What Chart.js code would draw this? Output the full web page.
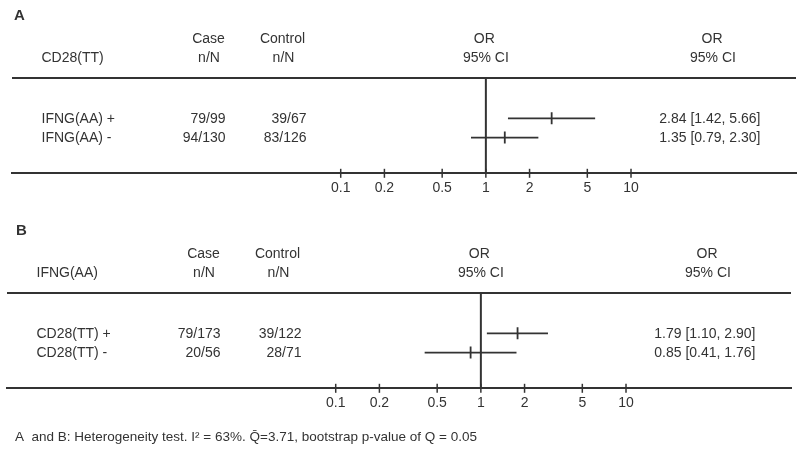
<!DOCTYPE html>
<html>
<head>
<meta charset="utf-8">
<script src="https://cdn.jsdelivr.net/npm/chart.js@4"></script>
<style>
  body { margin: 0; background: #fff; width: 800px; height: 459px; overflow: hidden; position: relative; }
  .panel { position: absolute; width: 800px; }
  #panelA { left: 0; top: 0; height: 215px; }
  #panelB { left: -5px; top: 215px; height: 244px; }
</style>
</head>
<body>
<div class="panel" id="panelA"><canvas id="chartA" width="800" height="215"></canvas></div>
<div class="panel" id="panelB"><canvas id="chartB" width="800" height="244"></canvas></div>
<script>
const tickValues = [0.1, 0.2, 0.5, 1, 2, 5, 10];

const groupA = "CD28(TT)";
const rowsA = ["IFNG(AA) +", "IFNG(AA) -"];
const caseA = ["79/99", "94/130"];
const controlA = ["39/67", "83/126"];
const orA = [2.84, 1.35];
const lowerA = [1.42, 0.79];
const upperA = [5.66, 2.30];

const groupB = "IFNG(AA)";
const rowsB = ["CD28(TT) +", "CD28(TT) -"];
const caseB = ["79/173", "20/56"];
const controlB = ["39/122", "28/71"];
const orB = [1.79, 0.85];
const lowerB = [1.10, 0.41];
const upperB = [2.90, 1.76];

const caption = "A  and B: Heterogeneity test. I\u00B2 = 63%. Q\u0304=3.71, bootstrap p-value of Q = 0.05";

const ink = "#333";
const font = '"Liberation Sans", Arial, sans-serif';
const fmt = (v) => v.toFixed(2);
const AXIS_H = 30;

function makePanel(canvasId, letter, letterX, group, rows, cases, controls, ors, lows, highs, footer) {
  const ctx = document.getElementById(canvasId).getContext("2d");
  const h = ctx.canvas.height;

  const ciSets = rows.map((r, i) => ({
    type: "scatter",
    showLine: true,
    data: [{ x: lows[i], y: i }, { x: highs[i], y: i }],
    borderColor: ink,
    borderWidth: 1.8,
    pointRadius: 0,
  }));

  const tablePlugin = {
    id: "table",
    beforeDatasetsDraw(chart) {
      const c = chart.ctx;
      const area = chart.chartArea;
      const xs = chart.scales.x;
      const ys = chart.scales.y;
      c.save();
      c.strokeStyle = ink;
      c.lineWidth = 2;
      // top rule
      c.beginPath();
      c.moveTo(area.left, area.top);
      c.lineTo(area.right, area.top);
      c.stroke();
      // line of no effect
      const x1 = xs.getPixelForValue(1);
      c.beginPath();
      c.moveTo(x1, area.top);
      c.lineTo(x1, area.bottom);
      c.stroke();
      // tick marks crossing the axis
      c.lineWidth = 1.5;
      tickValues.forEach((v) => {
        const x = xs.getPixelForValue(v);
        c.beginPath();
        c.moveTo(x, area.bottom - 4.5);
        c.lineTo(x, area.bottom + 4.5);
        c.stroke();
      });

      c.fillStyle = ink;
      c.textBaseline = "middle";
      c.font = "bold 15px " + font;
      c.textAlign = "left";
      c.fillText(letter, letterX, 15.5);

      c.font = "14px " + font;
      c.fillText(group, 41.5, 58.5);
      c.textAlign = "center";
      c.fillText("Case", 208.5, 39.5);
      c.fillText("n/N", 209, 58.5);
      c.fillText("Control", 282.5, 39.5);
      c.fillText("n/N", 283.5, 58.5);
      c.fillText("OR", x1 - 1.5, 39.5);
      c.fillText("95% CI", x1, 58.5);
      c.fillText("OR", 712, 39.5);
      c.fillText("95% CI", 713, 58.5);

      rows.forEach((r, i) => {
        const y = ys.getPixelForValue(i) + 1;
        c.textAlign = "left";
        c.fillText(r, 41.5, y);
        c.textAlign = "right";
        c.fillText(cases[i], 225.5, y);
        c.fillText(controls[i], 306.5, y);
        c.fillText(`${fmt(ors[i])} [${fmt(lows[i])}, ${fmt(highs[i])}]`, 760.5, y);
      });

      if (footer) {
        c.textAlign = "left";
        c.font = "13.5px " + font;
        c.fillText(footer, 20, 222.5, 462);
      }
      c.restore();
    },
  };

  return new Chart(ctx, {
    type: "scatter",
    data: {
      datasets: [
        ...ciSets,
        {
          type: "scatter",
          data: ors.map((v, i) => ({ x: v, y: i })),
          pointStyle: "line",
          rotation: 90,
          pointRadius: 6,
          borderColor: ink,
          backgroundColor: ink,
          borderWidth: 1.8,
        },
      ],
    },
    options: {
      responsive: false,
      animation: false,
      devicePixelRatio: 1,
      layout: { autoPadding: false, padding: { left: 12, right: 4, top: 78, bottom: h - 173.3 - AXIS_H } },
      scales: {
        x: {
          type: "logarithmic",
          min: 5.436e-4,
          max: 137,
          afterBuildTicks: (scale) => {
            scale.ticks = tickValues.map((v) => ({ value: v }));
          },
          afterFit: (scale) => {
            scale.height = AXIS_H;
            scale.paddingLeft = 0;
            scale.paddingRight = 0;
          },
          grid: { display: false, drawTicks: false },
          border: { display: true, color: ink, width: 2 },
          ticks: {
            autoSkip: false,
            maxRotation: 0,
            padding: 6,
            color: ink,
            font: { family: font, size: 14 },
            callback: (v) => String(v),
          },
        },
        y: {
          type: "linear",
          reverse: true,
          min: -2.1,
          max: 2.86,
          display: false,
        },
      },
      plugins: {
        legend: { display: false },
        tooltip: { enabled: false },
      },
    },
    plugins: [tablePlugin],
  });
}

makePanel("chartA", "A", 14, groupA, rowsA, caseA, controlA, orA, lowerA, upperA, null);
makePanel("chartB", "B", 21, groupB, rowsB, caseB, controlB, orB, lowerB, upperB, caption);
</script>
</body>
</html>
